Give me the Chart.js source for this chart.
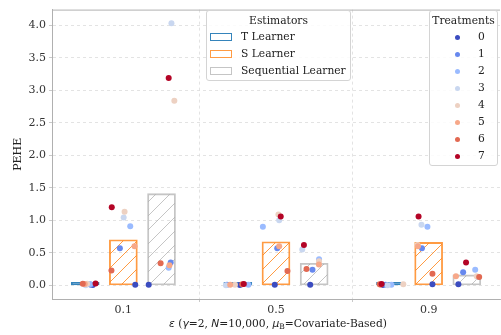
<!DOCTYPE html>
<html>
<head>
<meta charset="utf-8">
<script src="https://cdn.jsdelivr.net/npm/chart.js@4.4.1/dist/chart.umd.min.js"></script>
<style>
  html, body { margin: 0; padding: 0; background: #fff; overflow: hidden; }
  #wrap { position: relative; width: 501px; height: 335px; overflow: hidden; font-family: 'DejaVu Serif', serif; color: #222; }
  #chart { position: absolute; left: 0; top: 0; }
  .legend { position: absolute; background: rgba(255,255,255,0.85); border: 1px solid #d4d4d4; border-radius: 3px; box-sizing: border-box; font-size: 10.7px; }
  .legend .ttl { position: absolute; left: 0; right: 0; top: 4px; line-height: 12px; text-align: center; }
  .legend .row { position: absolute; left: 0; right: 0; height: 12px; line-height: 12px; }
  .legend .patch { position: absolute; top: 2px; width: 22px; height: 8px; box-sizing: border-box; background: #fff; }
  .legend .dot { position: absolute; top: 3.5px; width: 5px; height: 5px; border-radius: 50%; }
  .legend .lbl { position: absolute; white-space: nowrap; }
  #xtitle { position: absolute; left: 52px; width: 452px; top: 318px; text-align: center; font-size: 10.7px; line-height: 12px; white-space: nowrap; }
  #xtitle i { font-family: 'DejaVu Sans', sans-serif; }
  #xtitle sub { font-size: 7.5px; vertical-align: -2px; }
</style>
</head>
<body>
<div id="wrap">
  <canvas id="chart" width="504" height="335"></canvas>
  <div class="legend" id="estLegend" style="left:206px; top:10px; width:145px; height:71px;"></div>
  <div class="legend" id="trtLegend" style="left:429px; top:10px; width:69px; height:156px;"></div>
  <div id="xtitle"><i>ε</i> (<i>γ</i>=2, <i>N</i>=10,000, <i>μ</i><sub>B</sub>=Covariate-Based)</div>
</div>
<script>
// ค่าจากภาพ: กลุ่ม epsilon, ตัวประมาณค่า, treatment
const groups = ['0.1', '0.5', '0.9'];
const estimators = ['T Learner', 'S Learner', 'Sequential Learner'];
const treatments = ['0', '1', '2', '3', '4', '5', '6', '7'];
const yTicks = [0, 0.5, 1, 1.5, 2, 2.5, 3, 3.5, 4];

// ความสูงแท่ง (ค่าเฉลี่ย PEHE)
const tLearnerPehe = [0.012, 0.01, 0.01];
const sLearnerPehe = [0.70, 0.67, 0.66];
const seqLearnerPehe = [1.41, 0.34, 0.16];

// PEHE ของแต่ละ treatment [กลุ่ม][treatment]
const tLearnerByTreatment = [
  [0.005, 0.01, 0.02, 0.0, 0.025, 0.02, 0.025, 0.03],
  [0.005, 0.01, 0.01, 0.0, 0.01, 0.01, 0.015, 0.02],
  [0.005, 0.01, 0.01, 0.0, 0.015, 0.01, 0.015, 0.02]
];
const sLearnerByTreatment = [
  [0.01, 0.57, 0.91, 1.045, 1.13, 0.60, 0.23, 1.20],
  [0.01, 0.57, 0.90, 1.00, 1.09, 0.60, 0.22, 1.06],
  [0.015, 0.57, 0.90, 0.93, 0.62, 0.60, 0.18, 1.06]
];
const seqLearnerByTreatment = [
  [0.01, 0.35, 0.27, 4.03, 2.84, 0.31, 0.34, 3.19],
  [0.01, 0.24, 0.40, 0.55, 0.37, 0.32, 0.25, 0.62],
  [0.015, 0.20, 0.24, 0.13, 0.14, 0.14, 0.13, 0.35]
];

// การกระจายแนวนอน (jitter) ที่อ่านจากภาพ [กลุ่ม][treatment]
const tLearnerJitter = [
  [0.049, 0.036, 0.032, 0.003, 0.013, -0.003, -0.016, 0.068],
  [0.013, -0.071, 0.069, -0.078, -0.019, -0.050, 0.029, 0.039],
  [-0.052, -0.032, 0.006, -0.019, 0.084, -0.065, -0.071, -0.058]
];
const sLearnerJitter = [
  [0.078, -0.023, 0.045, 0.002, 0.008, 0.073, -0.078, -0.076],
  [-0.008, 0.008, -0.086, 0.021, 0.016, 0.021, 0.075, 0.031],
  [0.025, -0.044, -0.008, -0.047, -0.073, -0.070, 0.025, -0.066]
];
const seqLearnerJitter = [
  [-0.084, 0.060, 0.047, 0.065, 0.084, 0.052, -0.006, 0.047],
  [-0.026, -0.011, 0.032, -0.078, 0.032, 0.031, -0.050, -0.067],
  [-0.055, -0.024, 0.055, 0.071, 0.065, -0.071, 0.081, -0.005]
];

// สไตล์
const barOffset = [-0.25, 0, 0.25];
const estColors = ['rgba(31,119,180,0.9)', 'rgba(255,127,14,0.78)', 'rgba(150,150,150,0.55)'];
const trtColors = ['#3b4cc0', '#6788ee', '#9abbff', '#c9d7f0', '#edd1c2', '#f7a889', '#e26952', '#b40426'];
const serif = "'DejaVu Serif', serif";

const barValues = [tLearnerPehe, sLearnerPehe, seqLearnerPehe];
const pointValues = [tLearnerByTreatment, sLearnerByTreatment, seqLearnerByTreatment];
const pointJitter = [tLearnerJitter, sLearnerJitter, seqLearnerJitter];

const canvas = document.getElementById('chart');
const ctx = canvas.getContext('2d');

// ลาย hatch '/'
function hatch(color) {
  const size = 14;
  const c = document.createElement('canvas');
  c.width = c.height = size;
  const h = c.getContext('2d');
  h.strokeStyle = color;
  h.lineWidth = 1;
  h.beginPath();
  h.moveTo(0, size); h.lineTo(size, 0);
  h.moveTo(-2, 2); h.lineTo(2, -2);
  h.moveTo(size - 2, size + 2); h.lineTo(size + 2, size - 2);
  h.stroke();
  return ctx.createPattern(c, 'repeat');
}

const datasets = [];

estimators.forEach((name, e) => {
  datasets.push({
    type: 'bar',
    label: name,
    data: groups.map((g, i) => ({ x: i + barOffset[e], y: barValues[e][i] })),
    backgroundColor: hatch(estColors[e]),
    borderColor: estColors[e],
    borderWidth: 1.2,
    borderSkipped: false,
    barThickness: 28,
    grouped: false,
    minBarLength: e === 0 ? 3 : 0,
    order: 20
  });
});

treatments.forEach((t, k) => {
  const pts = [];
  estimators.forEach((name, e) => {
    groups.forEach((g, i) => {
      pts.push({ x: i + barOffset[e] + pointJitter[e][i][k], y: pointValues[e][i][k] });
    });
  });
  datasets.push({
    type: 'scatter',
    label: t,
    data: pts,
    backgroundColor: trtColors[k],
    borderWidth: 0,
    pointRadius: 3,
    order: 7 - k
  });
});

const topSpine = {
  id: 'topSpine',
  beforeDatasetsDraw(chart) {
    const { ctx, chartArea: { left, right, top } } = chart;
    ctx.save();
    ctx.strokeStyle = '#b0b0b0';
    ctx.lineWidth = 1;
    ctx.beginPath();
    ctx.moveTo(left, top + 0.5);
    ctx.lineTo(right, top + 0.5);
    ctx.stroke();
    ctx.restore();
  }
};

new Chart(ctx, {
  type: 'bar',
  data: { datasets },
  plugins: [topSpine],
  options: {
    responsive: false,
    animation: false,
    layout: { padding: { top: 5, left: 0, right: 0, bottom: 0 } },
    plugins: { legend: { display: false }, tooltip: { enabled: false } },
    scales: {
      x: {
        type: 'linear',
        min: -0.4675,
        max: 2.4675,
        offset: false,
        afterBuildTicks: (scale) => { scale.ticks = groups.map((g, i) => ({ value: i })); },
        afterFit: (scale) => { scale.height = 36; },
        ticks: {
          callback: (v) => groups[v],
          font: { family: serif, size: 11 },
          color: '#333',
          padding: 2,
          maxRotation: 0
        },
        grid: { color: '#dcdcdc', lineWidth: 0.8, tickLength: 3, tickColor: '#bbb' },
        border: { color: '#b0b0b0', width: 1, dash: [3, 3] }
      },
      y: {
        min: -0.21,
        max: 4.24,
        afterBuildTicks: (scale) => { scale.ticks = yTicks.map(v => ({ value: v })); },
        afterFit: (scale) => { scale.width = 52; },
        ticks: {
          callback: (v) => v.toFixed(1),
          font: { family: serif, size: 11 },
          color: '#333',
          padding: 3
        },
        grid: { color: '#dcdcdc', lineWidth: 0.8, tickLength: 3, tickColor: '#bbb' },
        border: { color: '#b0b0b0', width: 1, dash: [3, 3] },
        title: {
          display: true,
          text: 'PEHE',
          font: { family: serif, size: 11 },
          color: '#222',
          padding: { top: 12, bottom: 0 }
        }
      }
    }
  }
});

// legend แบบ HTML
const estLegend = document.getElementById('estLegend');
estLegend.innerHTML = '<div class="ttl">Estimators</div>' + estimators.map((name, e) =>
  `<div class="row" style="top:${20 + e * 17}px">
     <span class="patch" style="left:3px; border:1.2px solid ${estColors[e]}"></span>
     <span class="lbl" style="left:34px">${name}</span>
   </div>`).join('');

const trtLegend = document.getElementById('trtLegend');
trtLegend.innerHTML = '<div class="ttl">Treatments</div>' + treatments.map((t, k) =>
  `<div class="row" style="top:${20 + k * 17}px">
     <span class="dot" style="left:24.5px; background:${trtColors[k]}"></span>
     <span class="lbl" style="left:48px">${t}</span>
   </div>`).join('');
</script>
</body>
</html>
